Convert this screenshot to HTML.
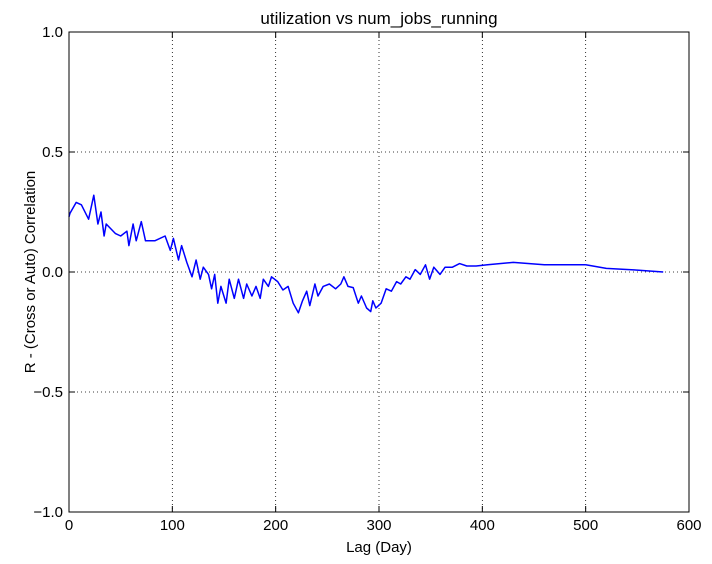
<!DOCTYPE html>
<html><head><meta charset="utf-8"><style>
body{margin:0;background:#fff;}
svg{display:block;font-family:"Liberation Sans",Arial,sans-serif;}
</style></head><body>
<svg id="chart" width="712" height="564">
<rect width="712" height="564" fill="#fff"/>
<g id="grid"></g>
<g id="ticks"></g>
<path id="line" fill="none" stroke="#0000ff" stroke-width="1.5" stroke-linejoin="round"/>
<rect x="69" y="32" width="620" height="480" fill="none" stroke="#000" stroke-width="1"/>
<text x="379" y="24" text-anchor="middle" font-size="17">utilization vs num_jobs_running</text>
<text x="379" y="552" text-anchor="middle" font-size="15">Lag (Day)</text>
<text transform="translate(35,272) rotate(-90)" text-anchor="middle" font-size="15">R - (Cross or Auto) Correlation</text>
</svg>
<script>
const lags=[0,1,7,12,19,24,28,31,34,36,45,50,56,58,62,65,70,74,83,93,98,101,106,109,114,119,123,127,130,135,138,141,144,147,152,155,160,164,169,172,177,181,185,188,193,196,202,207,212,217,222,226,230,233,238,241,246,252,258,263,266,270,275,280,283,288,292,294,297,302,307,312,317,321,326,330,335,340,345,349,353,359,364,371,378,385,394,405,430,460,500,520,550,575];
const corr=[0.23,0.245,0.29,0.28,0.22,0.32,0.20,0.25,0.15,0.20,0.16,0.15,0.17,0.11,0.20,0.13,0.21,0.13,0.13,0.15,0.09,0.14,0.05,0.11,0.04,-0.02,0.05,-0.03,0.02,-0.01,-0.07,-0.01,-0.13,-0.06,-0.13,-0.03,-0.11,-0.03,-0.11,-0.05,-0.10,-0.06,-0.11,-0.03,-0.06,-0.02,-0.04,-0.075,-0.06,-0.13,-0.17,-0.12,-0.08,-0.14,-0.05,-0.10,-0.06,-0.05,-0.07,-0.05,-0.02,-0.06,-0.065,-0.13,-0.10,-0.15,-0.165,-0.12,-0.15,-0.13,-0.07,-0.08,-0.04,-0.05,-0.02,-0.03,0.01,-0.01,0.03,-0.03,0.02,-0.01,0.02,0.02,0.035,0.025,0.025,0.03,0.04,0.03,0.03,0.015,0.008,0.0];
const xTicks=[0,100,200,300,400,500,600];
const yTicks=[-1.0,-0.5,0.0,0.5,1.0];
const yLabels=["\u22121.0","\u22120.5","0.0","0.5","1.0"];
const X=d=>69+d*620/600, Y=v=>272-v*240;
const NS="http://www.w3.org/2000/svg";
const grid=document.getElementById('grid'), ticks=document.getElementById('ticks');
function mk(tag,attrs,parent){const e=document.createElementNS(NS,tag);for(const k in attrs)e.setAttribute(k,attrs[k]);parent.appendChild(e);return e;}
xTicks.forEach(t=>{const x=X(t);
 const g=mk('line',{x1:x,x2:x,y1:32,y2:512,stroke:'#000','stroke-width':0.8,'stroke-dasharray':'1,3'},grid);
 
 
 mk('line',{x1:x,x2:x,y1:512,y2:506,stroke:'#000'},ticks);
 mk('line',{x1:x,x2:x,y1:32,y2:38,stroke:'#000'},ticks);
 const l=mk('text',{x:x,y:530,'text-anchor':'middle','font-size':15},ticks);l.textContent=t;
 
 
});
yTicks.forEach((t,i)=>{const y=Y(t);
 const g=mk('line',{x1:69,x2:689,y1:y,y2:y,stroke:'#000','stroke-width':0.8,'stroke-dasharray':'1,3'},grid);
 
 
 mk('line',{x1:69,x2:75,y1:y,y2:y,stroke:'#000'},ticks);
 mk('line',{x1:683,x2:689,y1:y,y2:y,stroke:'#000'},ticks);
 const l=mk('text',{x:63,y:y+5,'text-anchor':'end','font-size':15},ticks);l.textContent=yLabels[i];
 
 
});
document.getElementById('line').setAttribute('d',lags.map((d,i)=>(i?'L':'M')+X(d).toFixed(1)+','+Y(corr[i]).toFixed(1)).join(''));
</script>
</body></html>
